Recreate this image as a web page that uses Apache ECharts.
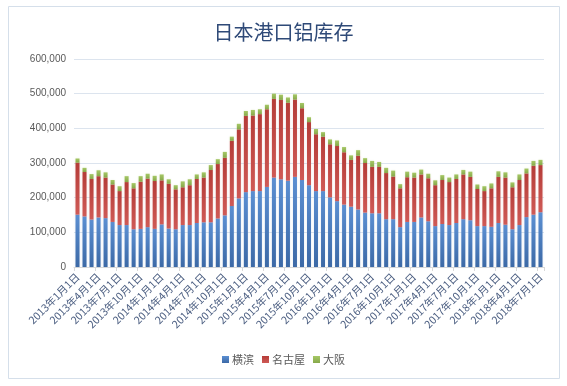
<!DOCTYPE html>
<html>
<head>
<meta charset="utf-8">
<script src="https://cdn.jsdelivr.net/npm/echarts@6/dist/echarts.min.js"></script>
<style>html,body{margin:0;padding:0;background:#fff;}#c{width:567px;height:386px;}</style>
</head>
<body>
<div id="c"></div>
<script>
// categories: monthly, 2013-01 .. 2018-07
var startYear = 2013, startMonth = 1, monthCount = 67;
var categories = [];
for (var i = 0; i < monthCount; i++) {
  var m = startMonth - 1 + i;
  categories.push((startYear + Math.floor(m / 12)) + '年' + (m % 12 + 1) + '月1日');
}
var seriesNames = ['横滨', '名古屋', '大阪'];
// values in thousand tonnes, multiplied by 1000 below
var yokohama = [151,146,137,143,141,130,121,121,109,110,115,110,123,
  111,109,121,121,127,129,129,140,149,176,198,216,219,219,
  231,258,253,249,260,251,236,219,219,201,190,180,174,
  166,157,155,155,138,138,115,130,130,143,132,118,124,121,
  127,138,135,118,118,116,127,122,109,121,144,151,158];
var nagoya = [150,128,117,119,117,108,98,124,118,136,140,138,127,
  129,115,109,115,127,129,151,157,166,188,199,220,218,222,
  224,227,229,225,223,207,182,164,157,153,159,151,135,
  155,143,134,134,133,123,112,129,128,124,124,118,127,124,
  127,129,125,107,101,111,133,136,121,130,126,141,136];
var osaka = [12,12,14,17,15,13,14,17,15,16,14,15,17,
  13,12,17,17,13,15,14,14,17,12,16,14,16,14,
  13,15,15,15,15,15,14,15,13,14,16,15,13,
  16,14,17,14,15,17,12,16,14,14,13,14,14,13,
  13,13,15,13,14,14,16,15,14,16,14,14,15];
var yTicks = [0, 100000, 200000, 300000, 400000, 500000, 600000];

function k(a){ return a.map(function(v){ return v * 1000; }); }

var colors = ['#4F81BD', '#C0504D', '#9BBB59'];
function grad(top, bottom){
  return new echarts.graphic.LinearGradient(0, 0, 0, 1, [
    {offset: 0, color: top}, {offset: 1, color: bottom}
  ]);
}
var styles = [
  {color: grad('#5b8fd2', '#3c69a6'), shadowColor: 'rgba(79,129,189,0.22)'},
  {color: grad('#b53c38', '#cf5a56'), shadowColor: 'rgba(192,80,77,0.22)'},
  {color: grad('#a6c866', '#86a84a'), shadowColor: 'rgba(155,187,89,0.22)'}
];
var dataSets = [k(yokohama), k(nagoya), k(osaka)];

var chart = echarts.init(document.getElementById('c'), null, {renderer: 'canvas'});
chart.setOption({
  animation: false,
  backgroundColor: '#ffffff',
  color: colors,
  title: {
    text: '日本港口铝库存',
    left: 'center',
    top: 17,
    textStyle: {
      fontFamily: 'Noto Sans CJK SC',
      fontSize: 20,
      fontWeight: 'normal',
      color: '#2f4a78'
    }
  },
  graphic: [{
    type: 'rect',
    shape: {x: 8.5, y: 6.5, width: 551, height: 372},
    style: {fill: 'none', stroke: '#d5dfea', lineWidth: 1},
    silent: true
  }],
  legend: {
    data: seriesNames,
    bottom: 16,
    left: 'center',
    icon: 'rect',
    itemWidth: 7,
    itemHeight: 7,
    itemGap: 8,
    textStyle: {fontFamily: 'Noto Sans CJK SC', fontSize: 11, color: '#595959', padding: [0,0,0,-2]}
  },
  grid: {left: 74, right: 23, top: 59, bottom: 119, containLabel: false},
  xAxis: {
    type: 'category',
    data: categories,
    boundaryGap: true,
    axisLine: {lineStyle: {color: '#d9d9d9'}},
    axisTick: {show: true, interval: 2, length: 4, lineStyle: {color: '#d9d9d9'}},
    axisLabel: {
      interval: 2,
      rotate: 45,
      fontFamily: 'Noto Sans CJK SC',
      fontSize: 10.5,
      color: '#4a5d80',
      margin: 8
    }
  },
  yAxis: {
    type: 'value',
    min: 0,
    max: 600000,
    interval: 100000,
    axisLine: {show: false},
    axisTick: {show: false},
    splitLine: {lineStyle: {color: '#dce4ee'}},
    axisLabel: {
      fontFamily: 'Liberation Sans',
      fontSize: 10,
      color: '#595959',
      margin: 8,
      formatter: function(v){ return yTicks.indexOf(v) >= 0 ? v.toLocaleString('en-US') : ''; }
    }
  },
  series: seriesNames.map(function(name, i){
    return {
      name: name,
      type: 'bar',
      stack: 'total',
      barWidth: 4,
      data: dataSets[i],
      itemStyle: {
        color: styles[i].color,
        shadowColor: styles[i].shadowColor,
        shadowBlur: 2
      }
    };
  })
});
</script>
</body>
</html>
